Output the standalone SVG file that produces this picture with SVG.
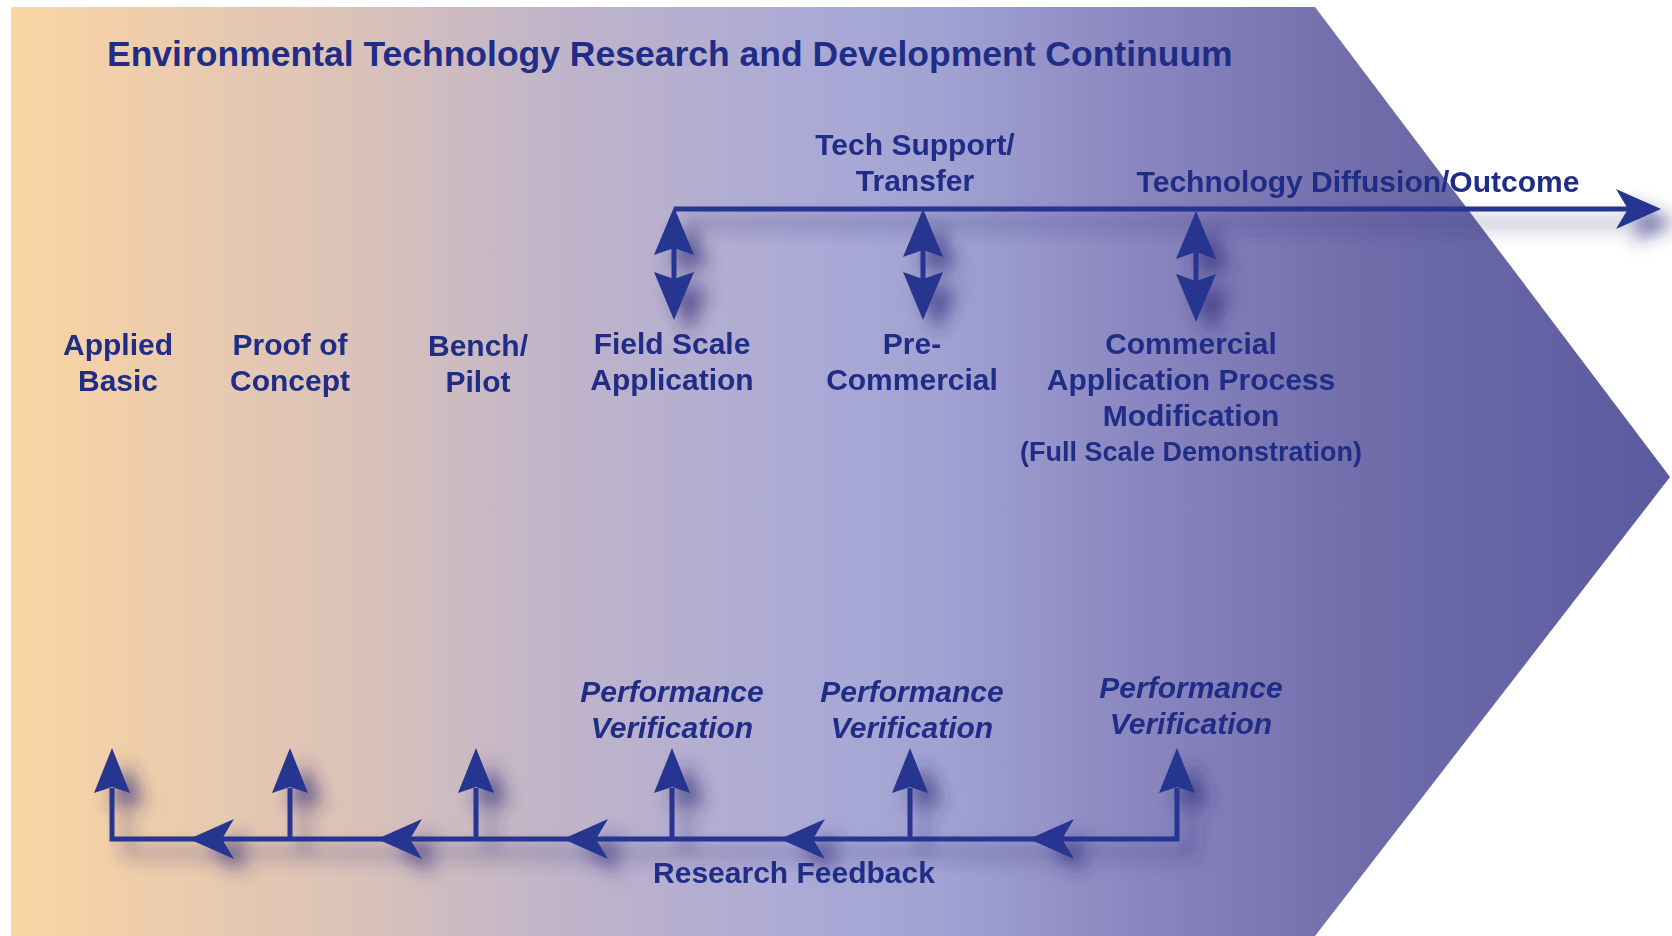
<svg xmlns="http://www.w3.org/2000/svg" width="1672" height="936" viewBox="0 0 1672 936">
<defs>
<linearGradient id="bg" gradientUnits="userSpaceOnUse" x1="11" y1="0" x2="1670" y2="0">
<stop offset="0" stop-color="#fad6a3"/>
<stop offset="0.05" stop-color="#f3d0a8"/>
<stop offset="0.2" stop-color="#dcc3b8"/>
<stop offset="0.33" stop-color="#c0b4c9"/>
<stop offset="0.48" stop-color="#abaad6"/>
<stop offset="0.56" stop-color="#a2a2d3"/>
<stop offset="0.68" stop-color="#8a86c0"/>
<stop offset="0.82" stop-color="#706caa"/>
<stop offset="1" stop-color="#5a5a9f"/>
</linearGradient>
<filter id="shadow" x="-10%" y="-50%" width="130%" height="250%">
<feGaussianBlur in="SourceAlpha" stdDeviation="9"/>
<feOffset dx="15" dy="14" result="b"/>
<feFlood flood-color="#2e2a78" flood-opacity="0.7"/>
<feComposite in2="b" operator="in"/>
<feMerge><feMergeNode/><feMergeNode in="SourceGraphic"/></feMerge>
</filter>
<path id="upHead" d="M0,0 L18,45 L0,39 L-18,45 Z"/>
<path id="upHeadBig" d="M0,0 L20,48 L0,41 L-20,48 Z"/>
<path id="downHeadBig" d="M0,0 L20,-48 L0,-41 L-20,-48 Z"/>
<path id="leftHead" d="M0,0 L45,-20 L33,0 L45,20 Z"/>
</defs>
<style>
.t{font-family:"Liberation Sans",Arial,sans-serif;font-weight:bold;fill:#1f2d86;text-anchor:middle;font-size:30px}
.it{font-style:italic}
.sm{font-size:27px}
.title{font-size:35.5px;text-anchor:start}
.ln{stroke:#26358f;stroke-width:5;fill:none}
.hd{fill:#26358f}
</style>
<polygon id="background" points="11,7 1315,7 1670,477 1315,936 11,936" fill="url(#bg)"/>
<g id="title"><text class="t title" x="107" y="66">Environmental Technology Research and Development Continuum</text></g>
<g id="connectors" filter="url(#shadow)">
<path class="ln" d="M674,209 H1630"/>
<use href="#leftHead" class="hd" transform="translate(1661,209) rotate(180)"/>
<path class="ln" d="M674,248 V280 M923,248 V280 M1196,250 V282"/>
<use href="#upHeadBig" class="hd" x="674" y="207"/>
<use href="#downHeadBig" class="hd" x="674" y="320"/>
<use href="#upHeadBig" class="hd" x="923" y="209"/>
<use href="#downHeadBig" class="hd" x="923" y="320"/>
<use href="#upHeadBig" class="hd" x="1196" y="211"/>
<use href="#downHeadBig" class="hd" x="1196" y="322"/>
<path class="ln" d="M112,788 V839 H1177 V788 M290,788 V839 M476,788 V839 M672,788 V839 M910,788 V839"/>
<use href="#upHead" class="hd" x="112" y="748"/>
<use href="#upHead" class="hd" x="290" y="748"/>
<use href="#upHead" class="hd" x="476" y="748"/>
<use href="#upHead" class="hd" x="672" y="748"/>
<use href="#upHead" class="hd" x="910" y="748"/>
<use href="#upHead" class="hd" x="1177" y="748"/>
<use href="#leftHead" class="hd" x="189" y="839"/>
<use href="#leftHead" class="hd" x="377" y="839"/>
<use href="#leftHead" class="hd" x="563" y="839"/>
<use href="#leftHead" class="hd" x="780" y="839"/>
<use href="#leftHead" class="hd" x="1029" y="839"/>
</g>
<g id="node-applied-basic"><text class="t" x="118" y="355">Applied</text><text class="t" x="118" y="391">Basic</text></g>
<g id="node-proof-of-concept"><text class="t" x="290" y="355">Proof of</text><text class="t" x="290" y="391">Concept</text></g>
<g id="node-bench-pilot"><text class="t" x="478" y="356">Bench/</text><text class="t" x="478" y="392">Pilot</text></g>
<g id="node-field-scale"><text class="t" x="672" y="354">Field Scale</text><text class="t" x="672" y="390">Application</text></g>
<g id="node-pre-commercial"><text class="t" x="912" y="354">Pre-</text><text class="t" x="912" y="390">Commercial</text></g>
<g id="node-commercial"><text class="t" x="1191" y="354">Commercial</text><text class="t" x="1191" y="390">Application Process</text><text class="t" x="1191" y="426">Modification</text><text class="t sm" x="1191" y="461">(Full Scale Demonstration)</text></g>
<g id="node-tech-support"><text class="t" x="915" y="155">Tech Support/</text><text class="t" x="915" y="191">Transfer</text></g>
<g id="node-diffusion"><text class="t" x="1358" y="192">Technology Diffusion/Outcome</text></g>
<g id="node-pv1"><text class="t it" x="672" y="702">Performance</text><text class="t it" x="672" y="738">Verification</text></g>
<g id="node-pv2"><text class="t it" x="912" y="702">Performance</text><text class="t it" x="912" y="738">Verification</text></g>
<g id="node-pv3"><text class="t it" x="1191" y="698">Performance</text><text class="t it" x="1191" y="734">Verification</text></g>
<g id="node-research-feedback"><text class="t" x="794" y="883">Research Feedback</text></g>
</svg>
